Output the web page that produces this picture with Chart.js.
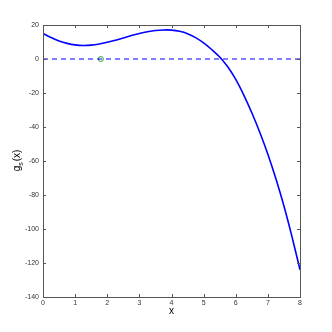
<!DOCTYPE html>
<html>
<head>
<meta charset="utf-8">
<script src="https://cdn.jsdelivr.net/npm/chart.js@4.4.0/dist/chart.umd.min.js"></script>
<style>
  html, body { margin: 0; padding: 0; background: #fff; }
  #wrap { width: 332px; height: 332px; }
</style>
</head>
<body>
<div id="wrap"><canvas id="chart" width="332" height="332"></canvas></div>
<script>
// valores
const xs = [0, 0.25, 0.5, 0.75, 1, 1.25, 1.5, 1.75, 2, 2.25, 2.5, 2.75, 3, 3.25, 3.5, 3.75,
            4, 4.25, 4.5, 4.75, 5, 5.25, 5.5, 5.75, 6, 6.25, 6.5, 6.75, 7, 7.25, 7.5, 7.75, 8];
const gs = [15, 12.6, 10.6, 9.2, 8.3, 7.95, 8.15, 8.8, 9.8, 11.0, 12.4, 13.8, 15.0, 16.0, 16.75, 17.1,
            17.0, 16.3, 14.9, 12.6, 9.5, 5.6, 1.2, -4.6, -12.0, -21.2, -31.6, -43.2, -56, -70.5, -86.5, -104.5, -124];
const zeroLine = [0, 0];
const zeroX = [0, 8];
const marker = [{ x: 1.8, y: 0 }];
const xTicks = [0, 1, 2, 3, 4, 5, 6, 7, 8];
const yTicks = [-140, -120, -100, -80, -60, -40, -20, 0, 20];

// caixa e ticks para dentro (estilo matlab)
const boxPlugin = {
  id: 'box',
  afterDraw(chart) {
    const { ctx, chartArea: a, scales } = chart;
    ctx.save();
    ctx.strokeStyle = '#555';
    ctx.lineWidth = 1;
    ctx.strokeRect(a.left + 0.5, a.top + 0.5, a.right - a.left, a.bottom - a.top);
    ctx.beginPath();
    xTicks.forEach(v => {
      const px = Math.round(scales.x.getPixelForValue(v)) + 0.5;
      ctx.moveTo(px, a.bottom); ctx.lineTo(px, a.bottom - 3);
      ctx.moveTo(px, a.top); ctx.lineTo(px, a.top + 3);
    });
    yTicks.forEach(v => {
      const py = Math.round(scales.y.getPixelForValue(v)) + 0.5;
      ctx.moveTo(a.left, py); ctx.lineTo(a.left + 3, py);
      ctx.moveTo(a.right, py); ctx.lineTo(a.right - 3, py);
    });
    ctx.stroke();

    // rotulo do eixo y com subscrito
    ctx.fillStyle = '#000';
    ctx.translate(17, (a.top + a.bottom) / 2);
    ctx.rotate(-Math.PI / 2);
    ctx.textBaseline = 'alphabetic';
    ctx.font = '10px "Liberation Sans", Arial, sans-serif';
    const w1 = ctx.measureText('g').width;
    ctx.font = '7px "Liberation Sans", Arial, sans-serif';
    const w2 = ctx.measureText('s').width;
    ctx.font = '10px "Liberation Sans", Arial, sans-serif';
    const w3 = ctx.measureText('(x)').width;
    let sx = -(w1 + w2 + w3) / 2;
    ctx.fillText('g', sx, 3);
    ctx.font = '7px "Liberation Sans", Arial, sans-serif';
    ctx.fillText('s', sx + w1, 6);
    ctx.font = '10px "Liberation Sans", Arial, sans-serif';
    ctx.fillText('(x)', sx + w1 + w2 + 1, 3);
    ctx.restore();

    ctx.save();
    ctx.fillStyle = '#000';
    ctx.font = '10px "Liberation Sans", Arial, sans-serif';
    ctx.textAlign = 'center';
    ctx.fillText('x', (a.left + a.right) / 2, 314);
    ctx.restore();
  }
};

const tickFont = { family: '"Liberation Sans", Arial, sans-serif', size: 7 };

new Chart(document.getElementById('chart'), {
  type: 'scatter',
  data: {
    datasets: [
      {
        data: xs.map((x, i) => ({ x: x, y: gs[i] })),
        showLine: true,
        borderColor: '#0000ff',
        borderWidth: 1.6,
        pointRadius: 0,
        tension: 0.3,
        fill: false
      },
      {
        data: zeroX.map((x, i) => ({ x: x, y: zeroLine[i] })),
        showLine: true,
        borderColor: '#0000ff',
        borderWidth: 1.2,
        borderDash: [5, 4],
        pointRadius: 0,
        fill: false
      },
      {
        data: marker,
        pointRadius: 2.5,
        pointBackgroundColor: '#fff',
        pointBorderColor: '#33a033',
        pointBorderWidth: 1
      }
    ]
  },
  options: {
    responsive: false,
    animation: false,
    layout: { padding: { top: 25, right: 32, left: 0, bottom: 0 } },
    plugins: { legend: { display: false }, tooltip: { enabled: false } },
    scales: {
      x: {
        type: 'linear',
        min: 0, max: 8,
        grid: { display: false, drawTicks: false },
        border: { display: false },
        afterFit: s => { s.height = 35; },
        afterBuildTicks: s => { s.ticks = xTicks.map(v => ({ value: v })); },
        ticks: { font: tickFont, color: '#333', padding: 2, maxRotation: 0 }
      },
      y: {
        type: 'linear',
        min: -140, max: 20,
        grid: { display: false, drawTicks: false },
        border: { display: false },
        afterFit: s => { s.width = 43; },
        afterBuildTicks: s => { s.ticks = yTicks.map(v => ({ value: v })); },
        ticks: { font: tickFont, color: '#333', padding: 4 }
      }
    }
  },
  plugins: [boxPlugin]
});
</script>
</body>
</html>
